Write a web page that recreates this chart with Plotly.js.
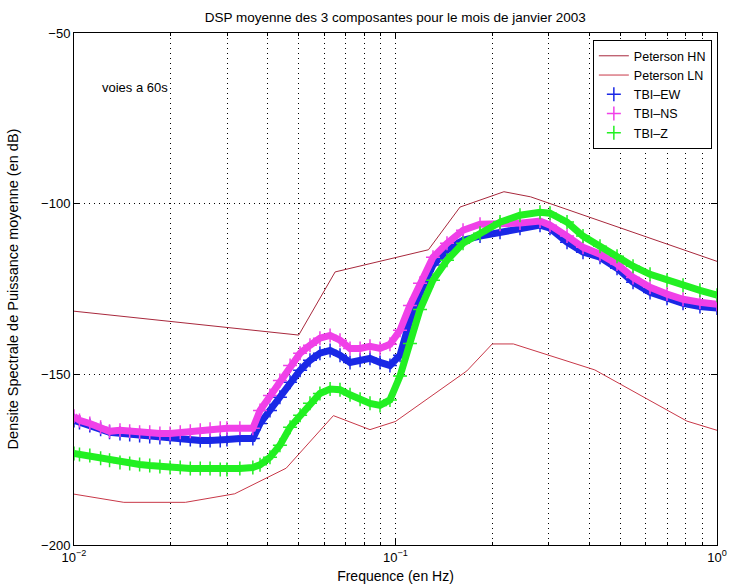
<!DOCTYPE html>
<html>
<head>
<meta charset="utf-8">
<script src="https://cdn.plot.ly/plotly-3.0.1.min.js"></script>
<style>html,body{margin:0;padding:0;background:#fff;}#chart{width:732px;height:588px;}</style>
</head>
<body>
<div id="chart"></div>
<script>
// Peterson noise models (breakpoints)
const petFreqHN = [0.01, 0.05, 0.0649, 0.1266, 0.1587, 0.2174, 0.2632, 1.0];
const petHN     = [-131.5, -138.5, -120.0, -113.5, -101.0, -96.5, -98.0, -116.9];
const petFreqLN = [0.01, 0.01429, 0.0222, 0.0316, 0.0457, 0.0641, 0.0833, 0.1, 0.1667, 0.2, 0.2326, 0.4167, 0.806, 1.0];
const petLN     = [-185.1, -187.5, -187.5, -185.0, -177.5, -162.1, -166.2, -163.8, -149.0, -141.1, -141.1, -148.7, -163.7, -166.4];

// Station spectra
const freq = [0.0100, 0.0104, 0.0112, 0.0121, 0.0129, 0.0139, 0.0149, 0.0160, 0.0172, 0.0185,
              0.0199, 0.0214, 0.0230, 0.0247, 0.0265, 0.0285, 0.0299, 0.0328, 0.0360, 0.0379,
              0.0407, 0.0437, 0.0470, 0.0505, 0.0542, 0.0582, 0.0626, 0.0672, 0.0722, 0.0776,
              0.0833, 0.0895, 0.0961, 0.1033, 0.1109, 0.1192, 0.1308, 0.1446, 0.1622, 0.1832,
              0.2114, 0.2439, 0.2815, 0.3024, 0.3416, 0.3830, 0.4326, 0.4887, 0.5480, 0.6190,
              0.6990, 0.7840, 0.8850, 1.0000];
const tbiEW = [-163.5, -164.1, -165.0, -166.1, -167.0, -167.3, -167.6, -167.9, -168.2, -168.5,
               -168.5, -168.8, -169.1, -169.4, -169.4, -169.4, -169.1, -168.8, -168.8, -164.4,
               -160.6, -156.7, -152.3, -148.8, -145.9, -143.8, -143.0, -144.4, -146.5, -145.9,
               -145.3, -146.5, -147.4, -144.4, -134.2, -126.2, -118.0, -113.6, -110.7, -109.5,
               -108.4, -107.2, -106.3, -107.2, -111.3, -114.2, -115.7, -118.9, -123.0, -126.0,
               -127.7, -129.2, -130.1, -130.6];
const tbiNS = [-162.3, -163.5, -164.4, -165.5, -166.7, -166.4, -166.7, -167.0, -167.0, -167.3,
               -167.3, -167.0, -166.7, -166.4, -166.1, -165.8, -165.8, -165.8, -165.8, -160.6,
               -156.2, -151.8, -147.4, -143.8, -141.5, -139.4, -138.6, -140.0, -142.4, -142.4,
               -141.8, -142.4, -141.2, -137.1, -129.8, -123.3, -115.7, -111.6, -107.8, -106.0,
               -106.0, -105.7, -105.1, -106.3, -109.5, -112.8, -114.8, -117.7, -121.6, -124.5,
               -126.5, -128.0, -128.9, -129.5];
const tbiZ  = [-173.2, -173.5, -173.8, -174.6, -175.2, -175.8, -176.1, -176.4, -176.7, -177.0,
               -177.3, -177.3, -177.6, -177.6, -177.6, -177.9, -177.9, -177.6, -177.3, -176.5,
               -174.3, -170.8, -165.5, -162.0, -158.5, -155.6, -154.3, -154.5, -156.0, -157.3,
               -158.5, -159.1, -157.5, -150.5, -141.0, -131.0, -122.4, -116.6, -111.6, -108.7,
               -105.4, -103.4, -102.5, -102.8, -105.4, -109.5, -112.5, -115.4, -118.3, -120.7,
               -122.4, -123.9, -125.4, -126.8];

const xMajor = [0.01, 0.1, 1];
const xMajorLabels = ['10<sup>\u22122</sup>', '10<sup>\u22121</sup>', '10<sup>0</sup>'];
const xMinor = [0.02, 0.03, 0.04, 0.05, 0.06, 0.07, 0.08, 0.09, 0.2, 0.3, 0.4, 0.5, 0.6, 0.7, 0.8, 0.9];
const yTicks = [-200, -150, -100, -50];

const FONT = 'Liberation Sans, Arial, Helvetica, sans-serif';
const cEW = '#1a28e6', cNS = '#f040e8', cZ = '#22f022';
const cHN = '#a8283c', cLN = '#c83848';

function band(y, c) {
  return {x: freq, y: y, type: 'scatter', mode: 'lines', showlegend: false, hoverinfo: 'skip',
          line: {color: c, width: 7}};
}
function marks(y, c, name) {
  return {x: freq, y: y, type: 'scatter', mode: 'markers', name: name,
          marker: {symbol: 'cross-thin-open', size: 10, color: c, line: {color: c, width: 1.5}}};
}

const traces = [
  {x: petFreqHN, y: petHN, type: 'scatter', mode: 'lines', name: 'Peterson HN', line: {color: cHN, width: 1}},
  {x: petFreqLN, y: petLN, type: 'scatter', mode: 'lines', name: 'Peterson LN', line: {color: cLN, width: 1}},
  band(tbiEW, cEW), marks(tbiEW, cEW, 'TBI\u2013EW'),
  band(tbiNS, cNS), marks(tbiNS, cNS, 'TBI\u2013NS'),
  band(tbiZ, cZ), marks(tbiZ, cZ, 'TBI\u2013Z')
];

const gridDash = '1px,4px';
const layout = {
  width: 732, height: 588,
  margin: {l: 74, r: 15, t: 33, b: 43},
  paper_bgcolor: '#fff', plot_bgcolor: '#fff',
  font: {family: FONT, size: 13, color: '#000'},
  title: {text: 'DSP moyenne des 3 composantes pour le mois de janvier 2003',
          font: {family: FONT, size: 13.5, color: '#000'}, x: 0.54, xanchor: 'center', y: 0.971, yanchor: 'middle'},
  xaxis: {
    type: 'log', range: [-2, 0], tickmode: 'array', tickvals: xMajor, ticktext: xMajorLabels,
    ticks: 'inside', ticklen: 6, tickcolor: '#000', tickwidth: 1,
    showline: true, linecolor: '#000', linewidth: 1, mirror: 'ticks',
    showgrid: true, gridcolor: '#000', gridwidth: 1, griddash: gridDash, zeroline: false,
    minor: {tickmode: 'array', tickvals: xMinor, ticks: 'inside', ticklen: 3, tickcolor: '#000',
            showgrid: true, gridcolor: '#000', gridwidth: 1, griddash: gridDash},
    tickfont: {family: FONT, size: 13, color: '#000'},
    title: {text: 'Frequence (en Hz)', font: {family: FONT, size: 14, color: '#000'}, standoff: 7}
  },
  yaxis: {
    range: [-200, -50], tickmode: 'array', tickvals: yTicks,
    ticks: 'inside', ticklen: 6, tickcolor: '#000', tickwidth: 1,
    showline: true, linecolor: '#000', linewidth: 1, mirror: 'ticks',
    showgrid: true, gridcolor: '#000', gridwidth: 1, griddash: gridDash, zeroline: false,
    tickfont: {family: FONT, size: 13, color: '#000'},
    title: {text: 'Densite Spectrale de Puissance moyenne (en dB)', font: {family: FONT, size: 14.5, color: '#000'}, standoff: 19}
  },
  legend: {x: 0.992, xanchor: 'right', y: 0.986, yanchor: 'top',
           bgcolor: '#fff', bordercolor: '#000', borderwidth: 1, itemwidth: 30,
           font: {family: FONT, size: 12.5, color: '#000'}, tracegroupgap: 0},
  annotations: [{text: 'voies a 60s', xref: 'paper', yref: 'paper', x: 0.04, y: 0.893,
                 xanchor: 'left', yanchor: 'middle', showarrow: false,
                 font: {family: FONT, size: 13, color: '#000'}}],
  showlegend: true
};

Plotly.newPlot('chart', traces, layout, {displayModeBar: false, staticPlot: true});
</script>
</body>
</html>
